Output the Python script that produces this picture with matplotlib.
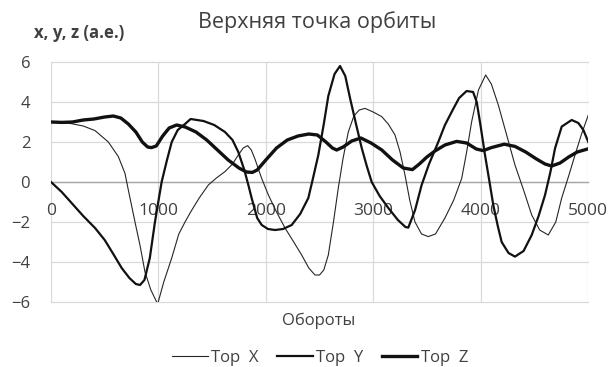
import matplotlib
matplotlib.use("Agg")
import matplotlib.pyplot as plt

plt.rcParams['font.family'] = ['Open Sans', 'DejaVu Sans']

# orbit top point coordinates vs. number of revolutions
x_rev = [0, 177, 300, 410, 534, 627, 689, 720, 782, 830, 875, 930, 993, 1050,
         1124, 1190, 1248, 1300, 1380, 1465, 1540, 1620, 1690, 1744, 1790, 1831,
         1865, 1899, 1960, 2024, 2100, 2179, 2260, 2334, 2400, 2458, 2500, 2540,
         2582, 2630, 2675, 2720, 2768, 2820, 2870, 2924, 3000, 3079, 3140, 3203,
         3250, 3296, 3340, 3389, 3450, 3513, 3580, 3668, 3750, 3824, 3870, 3917,
         3980, 4047, 4100, 4165, 4240, 4320, 4400, 4476, 4550, 4630, 4700, 4755,
         4820, 4879, 4940, 5003]
x_val = [3.0, 2.93, 2.8, 2.57, 2.0, 1.27, 0.43, -0.4, -2.0, -3.2, -4.5, -5.4, -6.1, -5.0,
         -3.8, -2.6, -2.0, -1.5, -0.8, -0.15, 0.2, 0.52, 0.9, 1.35, 1.7, 1.82,
         1.6, 1.15, 0.2, -0.65, -1.5, -2.3, -3.0, -3.65, -4.3, -4.65, -4.65, -4.4,
         -3.65, -2.0, -0.3, 1.2, 2.5, 3.3, 3.6, 3.68, 3.5, 3.27, 2.9, 2.35,
         1.5, 0.35, -0.9, -2.0, -2.6, -2.73, -2.6, -1.8, -0.9, 0.18, 1.5, 3.02,
         4.6, 5.35, 4.9, 3.85, 2.4, 0.85, -0.4, -1.65, -2.4, -2.65, -2.0, -0.8,
         0.3, 1.35, 2.4, 3.35]

y_rev = [0, 100, 200, 300, 410, 500, 580, 658, 730, 790, 829, 870, 920, 968,
         1030, 1080, 1124, 1180, 1248, 1300, 1420, 1520, 1620, 1690, 1744, 1800,
         1840, 1868, 1920, 1962, 2020, 2086, 2160, 2241, 2320, 2396, 2440, 2489,
         2540, 2582, 2640, 2691, 2740, 2784, 2840, 2893, 2940, 2986, 3060, 3141,
         3230, 3300, 3327, 3390, 3451, 3520, 3606, 3668, 3740, 3800, 3870, 3930,
         3964, 4000, 4041, 4080, 4118, 4160, 4196, 4260, 4320, 4400, 4476, 4540,
         4600, 4650, 4693, 4755, 4848, 4910, 4957, 5003]
y_val = [0.0, -0.5, -1.1, -1.7, -2.3, -2.9, -3.6, -4.3, -4.8, -5.1, -5.15, -4.9, -3.8, -2.0,
         0.0, 1.1, 2.0, 2.6, 2.9, 3.15, 3.05, 2.85, 2.5, 2.1, 1.5, 0.6,
         -0.2, -0.8, -1.8, -2.15, -2.35, -2.4, -2.35, -2.15, -1.6, -0.8, 0.2, 1.35,
         2.9, 4.3, 5.4, 5.8, 5.3, 4.2, 2.9, 1.7, 0.8, 0.0, -0.7, -1.3,
         -1.9, -2.25, -2.28, -1.4, -0.15, 0.9, 2.0, 2.85, 3.6, 4.2, 4.55, 4.5,
         4.0, 2.8, 1.35, 0.1, -1.15, -2.2, -3.0, -3.55, -3.73, -3.45, -2.65, -1.7,
         -0.65, 0.5, 1.68, 2.77, 3.1, 2.95, 2.6, 2.0]

z_rev = [0, 100, 200, 300, 400, 500, 580, 650, 720, 790, 850, 900, 935, 980,
         1040, 1100, 1170, 1250, 1350, 1450, 1550, 1650, 1750, 1820, 1875, 1920,
         2000, 2100, 2200, 2300, 2400, 2480, 2560, 2620, 2660, 2720, 2800, 2885,
         2980, 3080, 3180, 3280, 3365, 3430, 3500, 3575, 3668, 3777, 3870, 3960,
         4025, 4100, 4220, 4320, 4420, 4520, 4600, 4662, 4740, 4820, 4900, 5003]
z_val = [3.0, 2.98, 3.0, 3.1, 3.15, 3.25, 3.3, 3.2, 2.9, 2.5, 2.0, 1.75, 1.72, 1.8,
         2.3, 2.7, 2.85, 2.75, 2.5, 2.1, 1.6, 1.1, 0.7, 0.5, 0.48, 0.6,
         1.1, 1.7, 2.1, 2.3, 2.4, 2.35, 2.0, 1.7, 1.6, 1.75, 2.05, 2.2,
         1.95, 1.6, 1.1, 0.7, 0.62, 0.9, 1.25, 1.55, 1.85, 2.03, 1.95, 1.65,
         1.57, 1.72, 1.89, 1.78, 1.5, 1.15, 0.9, 0.8, 0.95, 1.25, 1.5, 1.66]

labels = ['Top  X', 'Top  Y', 'Top  Z']
x_ticks = [0, 1000, 2000, 3000, 4000, 5000]
y_ticks = [-6, -4, -2, 0, 2, 4, 6]

txt = '#404040'
grid_c = '#d9d9d9'

fig = plt.figure(figsize=(6.11, 3.67), dpi=100)
ax = fig.add_axes([51 / 611, 65 / 367, 537 / 611, 240 / 367])

ax.plot(x_rev, x_val, color='#262626', lw=0.8, label=labels[0], zorder=3)
ax.plot(y_rev, y_val, color='#111111', lw=1.6, label=labels[1], zorder=3)
ax.plot(z_rev, z_val, color='#111111', lw=2.4, label=labels[2], zorder=3)

ax.set_xlim(0, 5000)
ax.set_ylim(-6, 6)
ax.set_xticks(x_ticks)
ax.set_yticks(y_ticks)

ax.grid(True, color=grid_c, lw=0.9)
for gl in ax.get_xgridlines() + ax.get_ygridlines():
    gl.set_clip_on(False)

for s in ['left', 'top', 'right']:
    ax.spines[s].set_visible(False)
# horizontal axis crosses at zero
ax.spines['bottom'].set_position(('data', 0))
ax.spines['bottom'].set_color('#a6a6a6')
ax.spines['bottom'].set_linewidth(1.0)
ax.spines['bottom'].set_zorder(2)

ax.tick_params(axis='x', length=0, pad=15, labelsize=12.5, labelcolor=txt)
ax.tick_params(axis='y', length=0, pad=15, labelsize=12, labelcolor=txt)

fig.text(317 / 611, 1 - 22 / 367, 'Верхняя точка орбиты', ha='center', va='center',
         fontsize=15.5, color=txt)
fig.text(34 / 611, 1 - 33 / 367, 'x, y, z (a.e.)', ha='left', va='center',
         fontsize=12, fontweight='bold', color=txt)
fig.text(319 / 611, 1 - 321 / 367, 'Обороты', ha='center', va='center',
         fontsize=12, color=txt)

fig.legend(loc='center', bbox_to_anchor=(320 / 611, 1 - 358 / 367), ncol=3,
           frameon=False, fontsize=12, labelcolor=txt, handlelength=2.15,
           handletextpad=0.2, columnspacing=1.1)

fig.savefig('out.png', dpi=100)
